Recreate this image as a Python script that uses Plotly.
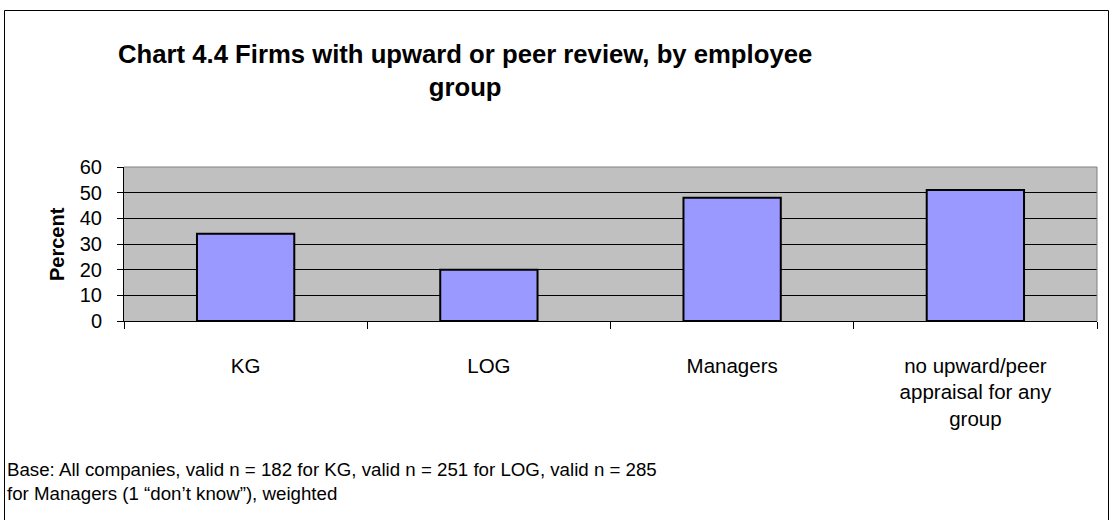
import plotly.graph_objects as go

# ---- data ----
categories = ["KG", "LOG", "Managers", "no upward/peer appraisal for any group"]
tick_labels = ["KG", "LOG", "Managers", "no upward/peer<br>appraisal for any<br>group"]
percent_values = [34, 20, 48, 51]
y_ticks = [0, 10, 20, 30, 40, 50, 60]

title_text = "Chart 4.4 Firms with upward or peer review, by employee<br>group"
y_title = "Percent"
footnote = ("Base: All companies, valid n = 182 for KG, valid n = 251 for LOG, valid n = 285"
            "<br>for Managers (1 \u201cdon\u2019t know\u201d), weighted")

W, H = 1112, 520
L, R, T, B = 124, 15, 167, 199
PW = W - L - R
PH = H - T - B

def px_x(px):
    return (px - L) / PW

def px_y(py):
    return (H - B - py) / PH

FONT = "Liberation Sans, Arial, sans-serif"

fig = go.Figure()
fig.add_trace(go.Bar(
    x=categories,
    y=percent_values,
    marker=dict(color="#9999FF", line=dict(color="black", width=2)),
    width=0.4,
    hoverinfo="x+y",
))

fig.update_layout(
    width=W, height=H,
    margin=dict(l=L, r=R, t=T, b=B, pad=0),
    paper_bgcolor="white",
    plot_bgcolor="#C0C0C0",
    showlegend=False,
    font=dict(family=FONT, size=20, color="black"),
    bargap=0.6,
)

fig.update_xaxes(
    type="category",
    tickmode="array",
    tickvals=categories,
    ticktext=tick_labels,
    tickson="boundaries",
    ticks="outside",
    ticklen=7,
    tickcolor="black",
    tickwidth=1,
    showline=True,
    linecolor="black",
    linewidth=1,
    showgrid=False,
    ticklabelstandoff=26,
    tickfont=dict(family=FONT, size=20.5, color="black"),
)

fig.update_yaxes(
    range=[0, 60],
    tickmode="array",
    tickvals=y_ticks,
    ticks="outside",
    ticklen=6,
    tickcolor="black",
    showline=True,
    linecolor="black",
    linewidth=1,
    showgrid=True,
    gridcolor="black",
    gridwidth=1,
    zeroline=False,
    ticklabelstandoff=11,
    tickfont=dict(family=FONT, size=20, color="black"),
)

# plot area top/right edges (gray)
fig.add_shape(type="line", xref="paper", yref="paper", x0=0, x1=1, y0=1, y1=1,
              line=dict(color="#808080", width=1))
fig.add_shape(type="line", xref="paper", yref="paper", x0=1, x1=1, y0=0, y1=1,
              line=dict(color="#808080", width=1))

# outer chart frame
fig.add_shape(type="rect", xref="paper", yref="paper",
              x0=px_x(4.5), x1=px_x(1108.5), y0=px_y(540), y1=px_y(10.5),
              line=dict(color="black", width=1), fillcolor="rgba(0,0,0,0)", layer="below")

# title
fig.add_annotation(text="<b>" + title_text + "</b>", xref="paper", yref="paper",
                   x=px_x(465), y=px_y(70), xanchor="center", yanchor="middle",
                   showarrow=False, align="center",
                   font=dict(family=FONT, size=25.7, color="black"))

# y axis title
fig.add_annotation(text="<b>" + y_title + "</b>", xref="paper", yref="paper",
                   x=px_x(57), y=0.5, xanchor="center", yanchor="middle",
                   textangle=-90, showarrow=False,
                   font=dict(family=FONT, size=20, color="black"))

# footnote
fig.add_annotation(text=footnote, xref="paper", yref="paper",
                   x=px_x(5), y=px_y(481.5), xanchor="left", yanchor="middle",
                   showarrow=False, align="left",
                   font=dict(family=FONT, size=18.7, color="black"))

fig.write_html("out.html", config={"displayModeBar": False},
               post_script="document.body.style.margin='0';")
